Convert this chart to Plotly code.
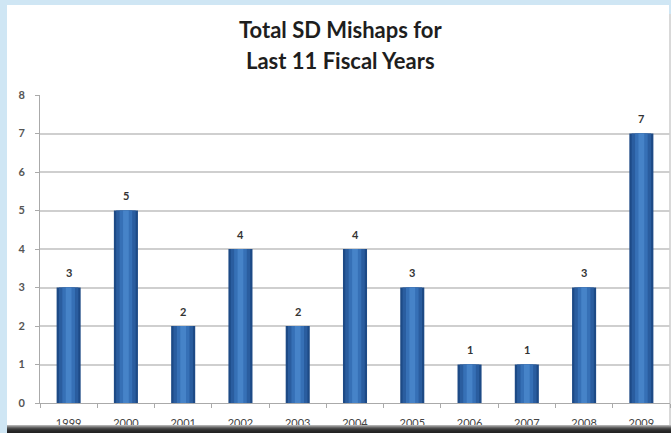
import plotly.graph_objects as go

# Fiscal years and number of SD mishaps per year
years = ["1999", "2000", "2001", "2002", "2003", "2004",
         "2005", "2006", "2007", "2008", "2009"]
mishaps = [3, 5, 2, 4, 2, 4, 3, 1, 1, 3, 7]
y_ticks = [0, 1, 2, 3, 4, 5, 6, 7, 8]

W, H = 671, 433
ML, MR, MT, MB = 40, 1, 95, 30
PW, PH = W - ML - MR, H - MT - MB


def px_x(px):
    return (px - ML) / PW


def px_y(py):
    return (H - MB - py) / PH


fig = go.Figure()

# Cylinder-like shading: a dark base column with lighter, narrower cores
for width, color in [(0.42, "#1d4a86"), (0.34, "#2a5d9f"),
                     (0.22, "#3670b6"), (0.10, "#4683c8")]:
    fig.add_trace(go.Bar(
        x=years, y=mishaps, width=width,
        marker=dict(color=color, line=dict(width=0)),
        hoverinfo="skip", showlegend=False,
    ))

shapes = [
    # white chart panel
    dict(type="rect", xref="paper", yref="paper", layer="below",
         x0=px_x(7), x1=px_x(669), y0=px_y(425), y1=px_y(5),
         fillcolor="white", line=dict(width=0)),
    # thin grey edge on the right
    dict(type="rect", xref="paper", yref="paper", layer="below",
         x0=px_x(669), x1=px_x(671), y0=px_y(425), y1=px_y(14),
         fillcolor="#d9d9d9", line=dict(width=0)),
]
# dark shadow band along the bottom edge
for i, c in enumerate(["#b0b0b0", "#8a8a8a", "#666666", "#4a4a4a",
                       "#383838", "#2c2c2c", "#262626", "#222222"]):
    shapes.append(dict(type="rect", xref="paper", yref="paper", layer="above",
                       x0=px_x(7), x1=px_x(671),
                       y0=px_y(426 + i), y1=px_y(425 + i),
                       fillcolor=c, line=dict(width=0)))

title_font = dict(family="Lato", size=22, color="#1e1e1e")
annotations = [
    dict(text="<b>Total SD Mishaps for</b>", xref="paper", yref="paper",
         x=px_x(340), y=px_y(30), xanchor="center", yanchor="middle",
         showarrow=False, font=title_font),
    dict(text="<b>Last 11 Fiscal Years</b>", xref="paper", yref="paper",
         x=px_x(340), y=px_y(61), xanchor="center", yanchor="middle",
         showarrow=False, font=title_font),
]
# value labels above each column (x given as category index)
for i, v in enumerate(mishaps):
    annotations.append(dict(
        x=i, y=v, xref="x", yref="y", text=f"<b>{v}</b>",
        showarrow=False, yanchor="middle", yshift=15,
        font=dict(family="Lato", size=11, color="#333333"),
    ))

fig.update_layout(
    width=W, height=H,
    margin=dict(l=ML, r=MR, t=MT, b=MB),
    paper_bgcolor="#cfe6f4",
    plot_bgcolor="white",
    barmode="overlay",
    shapes=shapes,
    annotations=annotations,
    showlegend=False,
    xaxis=dict(
        type="category", tickson="boundaries",
        range=[-0.5, len(years) - 0.5], categoryorder="array",
        categoryarray=years,
        ticks="outside", ticklen=4, tickcolor="#aaaaaa",
        showline=True, linecolor="#aaaaaa", linewidth=1,
        showgrid=False,
        tickfont=dict(family="Lato", size=11, color="#444444"),
        ticklabelstandoff=10,
    ),
    yaxis=dict(
        range=[0, 8], tickvals=y_ticks,
        ticks="outside", ticklen=4, tickcolor="#aaaaaa",
        showline=True, linecolor="#aaaaaa", linewidth=1,
        showgrid=True, gridcolor="#cfcfcf", gridwidth=1.5,
        zeroline=False,
        tickfont=dict(family="Lato", size=11, color="#555555", weight="bold"),
        ticklabelstandoff=8,
    ),
)

fig.write_html("out.html")
